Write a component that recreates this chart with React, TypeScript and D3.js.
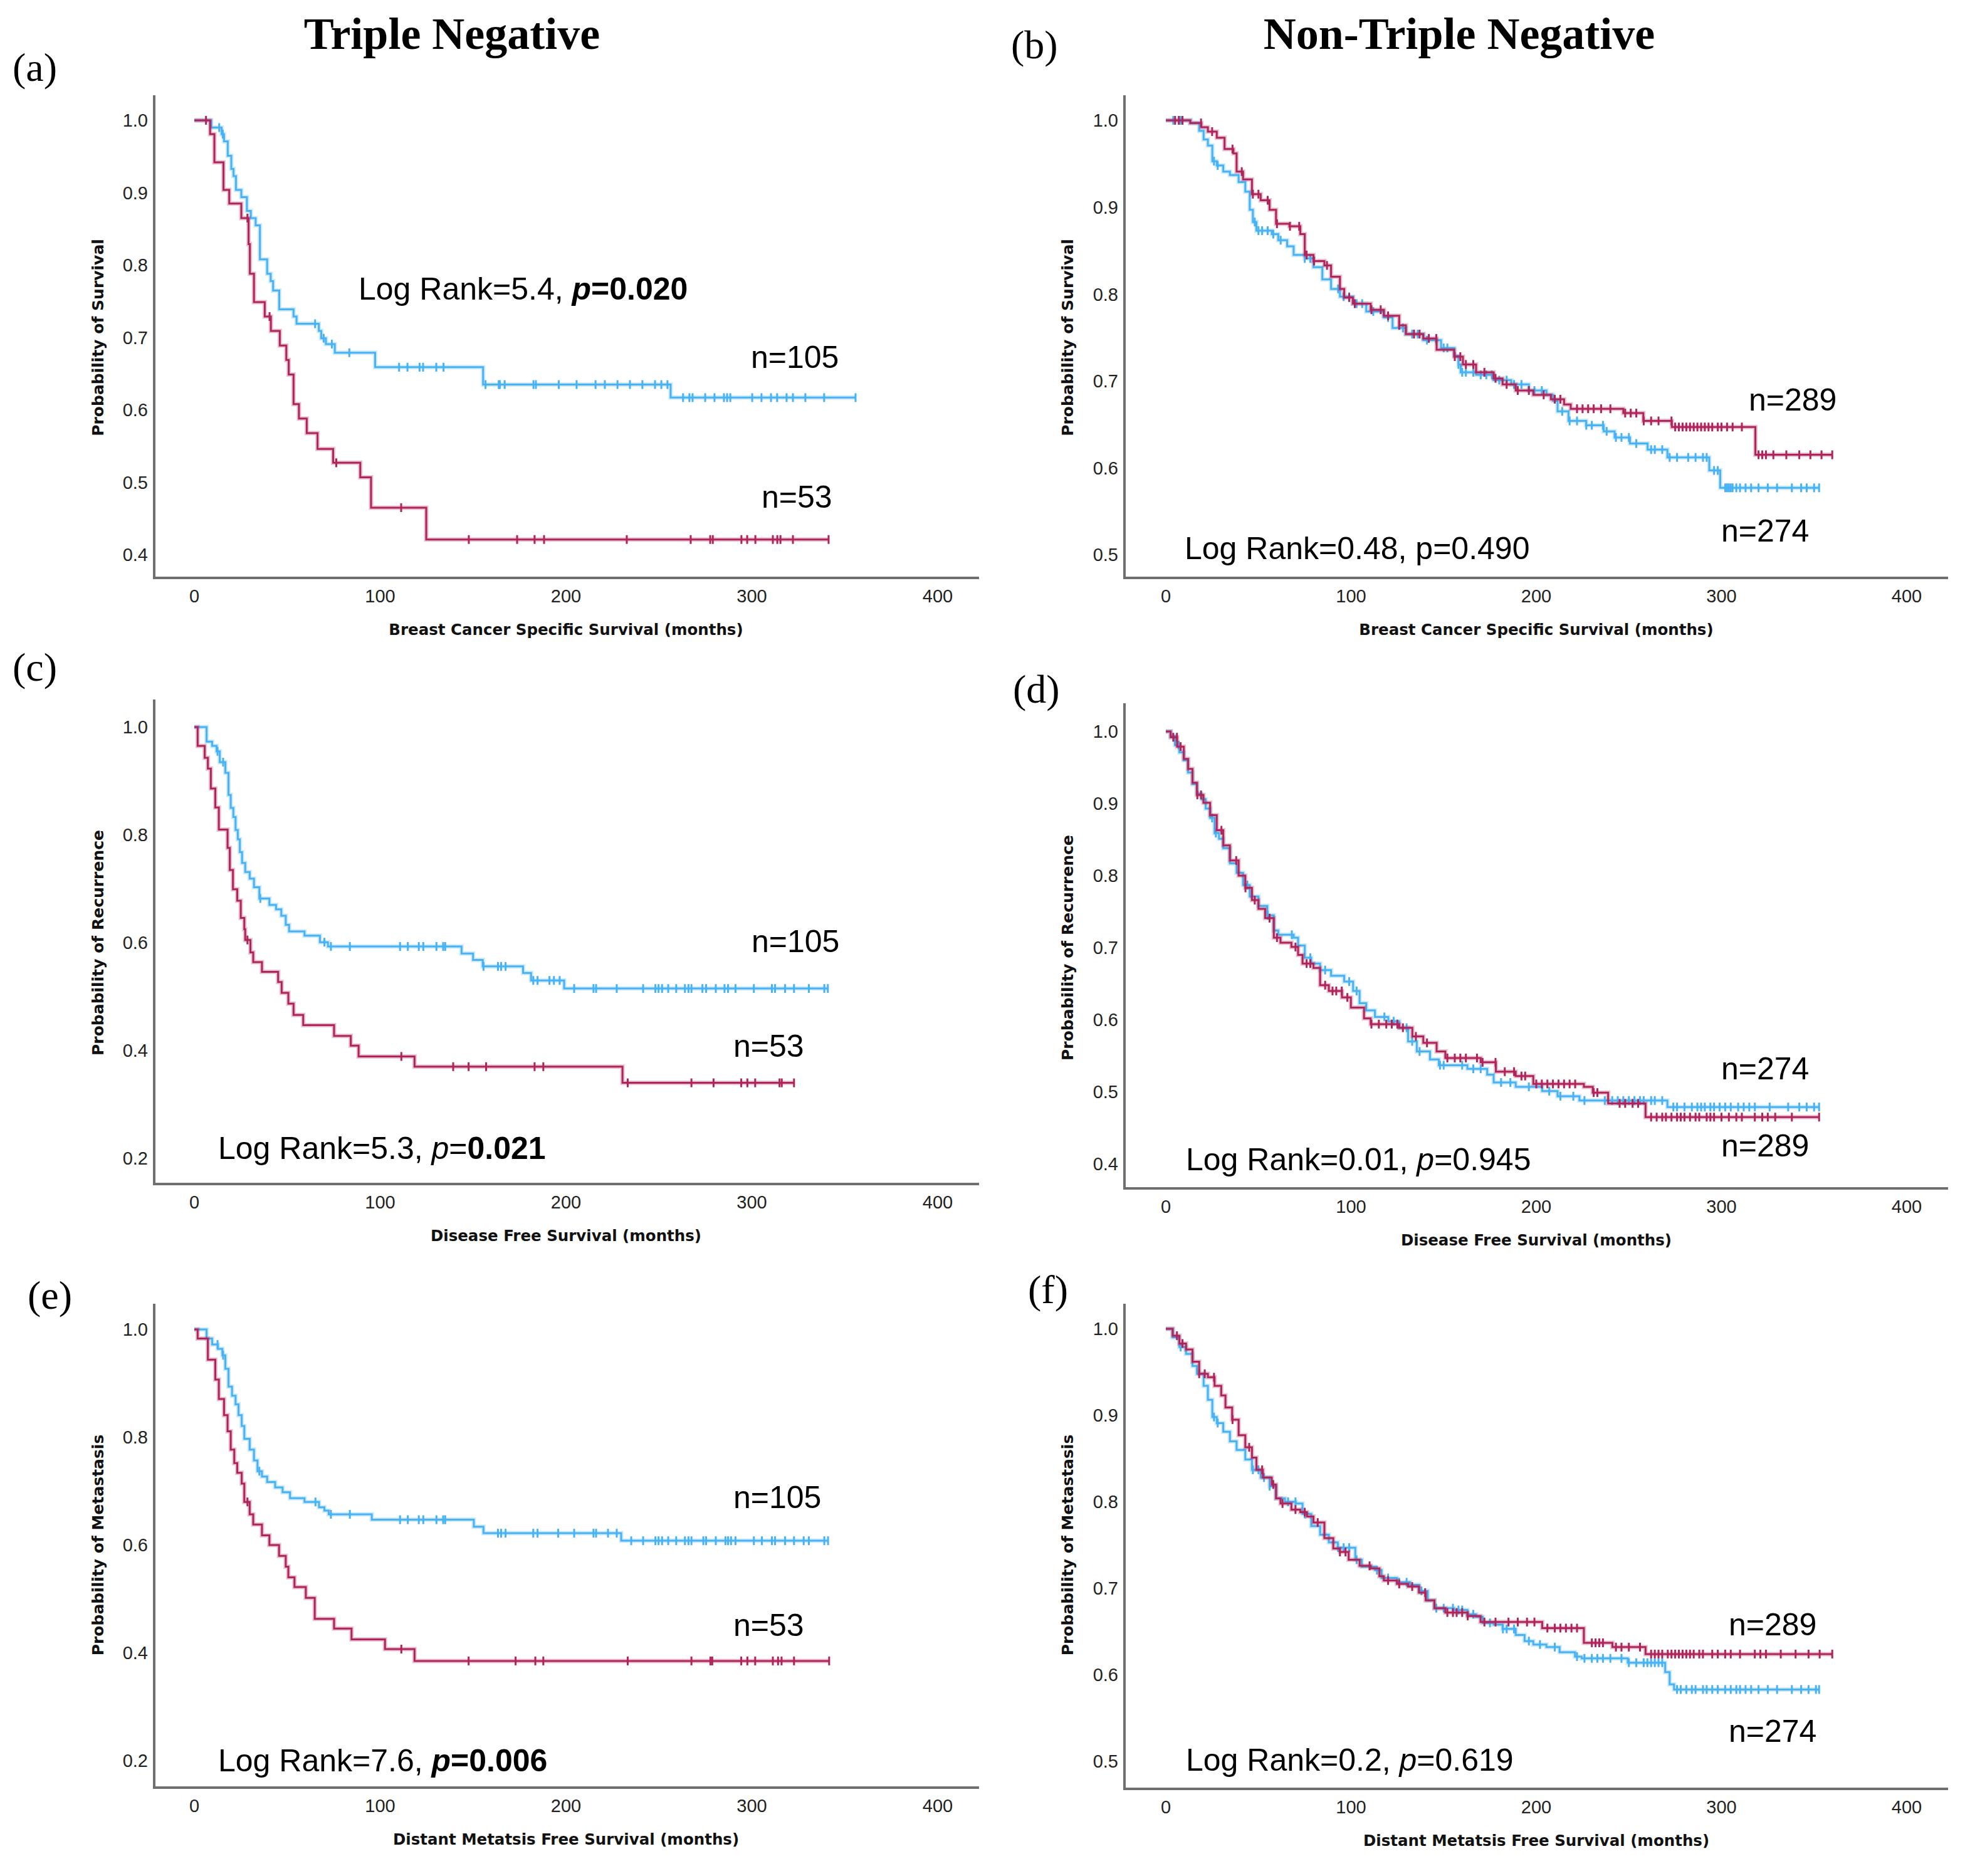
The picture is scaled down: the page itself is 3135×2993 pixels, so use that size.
import { curveStepAfter, format, line, scaleLinear } from 'd3';

const width = 3135;
const height = 2993;

const blueColor = '#48b2f4';
const redColor = '#ad255b';
const axisColor = '#6f6f6f';

// Kaplan-Meier steps: [months, probability after the drop]
const aBlue = [[0, 1], [9.1, 0.99], [14.7, 0.981], [16, 0.971], [18, 0.951], [19.9, 0.933], [21.1, 0.923], [22.4, 0.904], [25.3, 0.894], [28.3, 0.875], [30.4, 0.865], [33, 0.855], [35.3, 0.808], [39.2, 0.788], [41.1, 0.778], [42.4, 0.765], [45.7, 0.739], [53.4, 0.729], [55, 0.719], [67, 0.709], [68.3, 0.699], [70.8, 0.691], [75.6, 0.679], [97.3, 0.659], [155.4, 0.635], [256.3, 0.617]];
const aBlueEnd = 355.8;
const aBlueCensor = [13.4, 15.3, 65, 69.6, 74, 83.4, 110.2, 114.7, 121.2, 123.1, 130.2, 134.1, 156.7, 163.8, 164.4, 167, 182.5, 183.8, 196.1, 205.7, 215.9, 220.9, 227.7, 234.4, 241.1, 247.9, 251.3, 254.6, 263, 266.4, 268.1, 274.9, 279.9, 285, 286.7, 288.4, 300.2, 305.2, 310.3, 313.6, 318.7, 322.1, 328.8, 338.9, 355.8];
const aRed = [[0, 1], [8.5, 0.981], [10.8, 0.942], [15.7, 0.904], [18.8, 0.885], [25.3, 0.865], [29.2, 0.829], [29.9, 0.788], [32.1, 0.749], [37.9, 0.729], [41.2, 0.709], [46, 0.689], [49.5, 0.669], [50.8, 0.649], [53.4, 0.608], [56.3, 0.588], [60.5, 0.568], [66.3, 0.546], [74.7, 0.527], [89.3, 0.507], [95.1, 0.465], [124.8, 0.421]];
const aRedEnd = 341.3;
const aRedCensor = [6.3, 28.6, 40.5, 76.4, 111.3, 147.7, 173.7, 183.1, 188.2, 232.7, 267.1, 277.6, 279, 294.4, 297.5, 301.9, 311.3, 313.7, 315.4, 322.1, 341.3];

const bBlue = [[0, 1], [13.2, 0.997], [18, 0.988], [20.4, 0.978], [22.7, 0.971], [25.1, 0.953], [27.5, 0.948], [31, 0.941], [34.6, 0.937], [39.3, 0.929], [42.9, 0.918], [45.3, 0.897], [47, 0.883], [48.9, 0.873], [57.2, 0.869], [60.7, 0.862], [65.5, 0.855], [69, 0.845], [75, 0.841], [79.7, 0.831], [84.5, 0.817], [89.2, 0.806], [94, 0.797], [101, 0.789], [108.2, 0.78], [117.7, 0.773], [122.4, 0.761], [129.6, 0.754], [139, 0.747], [148.6, 0.738], [155.7, 0.729], [158, 0.719], [159.2, 0.71], [167.5, 0.707], [177, 0.701], [186.5, 0.696], [196, 0.689], [205.5, 0.684], [209.1, 0.677], [211.5, 0.665], [217.4, 0.654], [226.9, 0.649], [236.4, 0.642], [242.3, 0.635], [250.6, 0.628], [260.1, 0.621], [270.8, 0.612], [293.4, 0.597], [299.3, 0.577]];
const bBlueEnd = 352.7;
const bBlueCensor = [4, 8, 26, 28, 48, 50, 52, 55, 58, 62, 75, 78, 93, 96, 99, 103, 106, 112, 120, 128, 133, 136, 141, 146, 150, 152, 158, 160, 162, 166, 170, 173, 176, 180, 184, 188, 192, 199, 203, 214, 218, 222, 227, 230, 236, 238, 243, 246, 250, 254, 262, 264, 268, 272, 276, 282, 286, 290, 292, 296, 298, 302, 303, 304, 305, 306, 308, 310, 313, 316, 320, 325, 330, 338, 343, 346, 350, 352.7];
const bRed = [[0, 1], [13.2, 0.997], [19.2, 0.992], [22.7, 0.987], [27.5, 0.98], [31.7, 0.967], [36.5, 0.962], [38.2, 0.941], [41.7, 0.932], [46.5, 0.915], [51.2, 0.908], [56, 0.897], [59.5, 0.881], [66.7, 0.878], [72.6, 0.869], [75, 0.845], [79.7, 0.838], [85.6, 0.833], [89.2, 0.82], [94, 0.806], [96.3, 0.796], [101, 0.789], [110.6, 0.782], [117.7, 0.775], [126, 0.764], [129.6, 0.754], [139, 0.749], [146.2, 0.736], [155.7, 0.728], [160.4, 0.719], [167.5, 0.71], [177, 0.703], [181.8, 0.696], [188.9, 0.689], [198.4, 0.684], [207.9, 0.679], [215, 0.673], [218.6, 0.668], [247, 0.663], [257.8, 0.654], [273.2, 0.647], [318.3, 0.615]];
const bRedEnd = 359.8;
const bRedCensor = [5, 7, 9, 19, 25, 36, 41, 47, 50, 55, 60, 67, 72, 76, 80, 87, 99, 102, 111, 116, 120, 126, 134, 137, 142, 146, 156, 159, 162, 166, 172, 178, 184, 190, 196, 204, 210, 213, 222, 225, 228, 231, 235, 240, 248, 251, 254, 258, 262, 266, 273, 275, 277, 279, 281, 283, 285, 287, 289, 291, 293, 295, 298, 300, 303, 306, 311, 320, 322, 324, 328, 335, 342, 348, 354, 359.8];

const cBlue = [[0, 1], [6.6, 0.973], [9.6, 0.965], [12, 0.955], [13.7, 0.935], [16.7, 0.915], [18.4, 0.874], [19.6, 0.85], [21, 0.833], [22.2, 0.809], [23.4, 0.792], [24.5, 0.768], [25.7, 0.748], [27.4, 0.731], [29.8, 0.719], [32.1, 0.703], [35, 0.682], [40.4, 0.67], [44, 0.662], [46.8, 0.65], [49.2, 0.633], [51, 0.621], [59.3, 0.613], [67.6, 0.601], [71.9, 0.593], [143.8, 0.58], [150, 0.568], [155.2, 0.556], [176.9, 0.544], [181.2, 0.53], [199, 0.515]];
const cBlueEnd = 340.9;
const cBlueCensor = [12.5, 15.5, 35.5, 70, 73.5, 83.7, 110.7, 114.9, 120.8, 123.2, 130.3, 133.9, 135, 155.6, 163.4, 165.1, 167.5, 182.4, 184.7, 191.1, 193.5, 196.6, 204.4, 214.8, 216.2, 227.3, 241.5, 248.1, 249.8, 251.7, 255, 259.3, 264, 265.9, 267.5, 273.4, 275.4, 280.6, 285.3, 287.2, 291.2, 301.1, 310.8, 312.5, 317.9, 322.7, 330.7, 339, 340.9];
const cRed = [[0, 1], [1.8, 0.965], [5.6, 0.943], [7.3, 0.923], [8.9, 0.886], [11.3, 0.851], [13.2, 0.81], [17.9, 0.776], [19.1, 0.735], [20.8, 0.699], [23.1, 0.678], [25, 0.646], [26.9, 0.625], [27.4, 0.605], [30.2, 0.582], [31.7, 0.564], [36.4, 0.546], [45.1, 0.527], [47, 0.507], [50.6, 0.487], [53.4, 0.466], [58.6, 0.447], [75.2, 0.427], [84.2, 0.409], [88.4, 0.389], [118.5, 0.37], [230.4, 0.34]];
const cRedEnd = 323;
const cRedCensor = [28.6, 111.4, 139.3, 147.6, 157, 183.1, 187.8, 233.2, 267.5, 279.4, 294.3, 297.6, 301.8, 314.9, 316.1, 322.7];

const dBlue = [[0, 1], [2.6, 0.994], [4.9, 0.981], [7.3, 0.971], [9.7, 0.96], [12, 0.943], [14.4, 0.927], [16.8, 0.914], [19.2, 0.906], [21.5, 0.893], [23.9, 0.88], [26.3, 0.859], [28.7, 0.851], [31, 0.838], [34.6, 0.817], [38.2, 0.804], [41.7, 0.787], [45.3, 0.771], [50, 0.758], [54.8, 0.745], [58.3, 0.724], [60.7, 0.718], [69, 0.714], [71.4, 0.703], [75, 0.686], [78.5, 0.678], [83.3, 0.669], [89.2, 0.661], [96.3, 0.653], [101.1, 0.64], [104.6, 0.623], [108.2, 0.613], [112.9, 0.604], [120.1, 0.598], [126, 0.589], [130.8, 0.57], [135.5, 0.556], [142.6, 0.545], [147.4, 0.537], [162.8, 0.532], [173.5, 0.524], [177, 0.513], [188.9, 0.507], [203.2, 0.501], [211.5, 0.494], [223.3, 0.488], [270.8, 0.479]];
const dBlueEnd = 352.7;
const dBlueCensor = [7, 25, 27, 44, 55, 68, 78, 86, 99, 103, 118, 123, 130, 133, 137, 148, 150, 160, 166, 170, 181, 186, 196, 207, 213, 220, 226, 237, 241, 244, 247, 250, 253, 256, 258, 262, 264, 268, 274, 276, 280, 284, 287, 289, 291, 294, 296, 299, 302, 305, 309, 312, 315, 318, 326, 336, 342, 346, 350, 352.7];
const dRed = [[0, 1], [2.6, 0.992], [6.1, 0.979], [9.7, 0.962], [12, 0.948], [14.4, 0.929], [16.8, 0.912], [20.3, 0.901], [23.9, 0.884], [27.5, 0.863], [31, 0.842], [34.6, 0.821], [39.3, 0.8], [42.9, 0.783], [46.5, 0.766], [50, 0.754], [53.6, 0.741], [58.3, 0.714], [61.9, 0.707], [67.8, 0.701], [71.4, 0.69], [73.8, 0.678], [79.7, 0.672], [83.3, 0.648], [88, 0.64], [95.1, 0.631], [99.9, 0.617], [107, 0.602], [110.6, 0.594], [126, 0.589], [133.1, 0.577], [139, 0.568], [146.2, 0.556], [150.9, 0.547], [170, 0.541], [178.2, 0.528], [188.9, 0.522], [198.4, 0.511], [225.7, 0.507], [230.5, 0.499], [238.8, 0.484], [259, 0.465]];
const dRedEnd = 352.7;
const dRedCensor = [4, 6, 8, 17, 19, 30, 38, 43, 48, 56, 60, 70, 76, 78, 86, 90, 92, 95, 98, 111, 115, 119, 122, 125, 128, 135, 141, 152, 156, 159, 162, 168, 171, 178, 183, 188, 192, 194, 200, 203, 206, 209, 212, 215, 218, 221, 231, 233, 245, 248, 252, 255, 262, 265, 268, 270, 273, 276, 278, 280, 283, 286, 288, 292, 294, 296, 300, 304, 308, 311, 318, 322, 325, 329, 338, 352.7];

const eBlue = [[0, 1], [6.6, 0.983], [9.6, 0.972], [12.7, 0.964], [15.1, 0.952], [16.7, 0.927], [18.4, 0.894], [20.3, 0.877], [22.2, 0.861], [23.8, 0.841], [25.5, 0.821], [26.9, 0.797], [29.8, 0.777], [32.1, 0.757], [34, 0.737], [36.4, 0.727], [39.2, 0.717], [43.5, 0.707], [47.5, 0.698], [51.5, 0.687], [59.3, 0.68], [67.1, 0.67], [70, 0.664], [72.3, 0.657], [95.5, 0.647], [150.4, 0.634], [155.6, 0.622], [229.7, 0.608]];
const eBlueEnd = 341;
const eBlueCensor = [12.5, 15.5, 35, 65.2, 73.5, 83.7, 110.7, 114.9, 120.8, 123.2, 130.3, 133.9, 135, 163.4, 165.1, 167.5, 182.4, 184.7, 195.8, 204.4, 214.8, 216.2, 222.6, 227.3, 235.1, 241.5, 248.1, 249.8, 251.7, 255, 259.3, 264, 265.9, 267.5, 273.9, 275.4, 280.6, 285.8, 287.2, 288.8, 291.2, 301.1, 305.4, 310.8, 312.5, 317.9, 322.7, 327.9, 330.7, 339, 341];
const eRed = [[0, 1], [1.8, 0.983], [7.3, 0.944], [11.3, 0.907], [13.2, 0.871], [16, 0.841], [17.9, 0.811], [19.6, 0.777], [21.5, 0.752], [23.1, 0.734], [25.5, 0.714], [26.9, 0.68], [29.8, 0.657], [31.7, 0.638], [36.4, 0.618], [40.4, 0.6], [45.6, 0.58], [49.2, 0.56], [50.6, 0.54], [53.9, 0.522], [60, 0.502], [64.8, 0.463], [75.2, 0.445], [84.6, 0.425], [102.6, 0.407], [118.5, 0.385]];
const eRedEnd = 341.6;
const eRedCensor = [28.6, 111.4, 147.6, 172.9, 183.5, 187.8, 233.2, 267.5, 277.7, 278.7, 294.3, 297.6, 301.8, 311.3, 314.1, 316, 322.7, 341.6];

const fBlue = [[0, 1], [3.7, 0.99], [7.3, 0.979], [10.9, 0.971], [14.4, 0.957], [16.8, 0.948], [20.4, 0.934], [22.7, 0.918], [25.1, 0.898], [27.5, 0.891], [31, 0.881], [34.6, 0.87], [38.2, 0.86], [42.9, 0.849], [46.5, 0.837], [51.2, 0.828], [56, 0.818], [59.5, 0.804], [64.3, 0.8], [70.2, 0.798], [73.8, 0.786], [78.5, 0.772], [83.3, 0.762], [88, 0.753], [92.8, 0.747], [102.3, 0.733], [105.8, 0.725], [113, 0.721], [116.5, 0.712], [124.8, 0.707], [131.9, 0.704], [136.7, 0.697], [141.4, 0.686], [145, 0.677], [155.7, 0.675], [162.8, 0.67], [167.5, 0.667], [171.1, 0.66], [177, 0.658], [181.8, 0.653], [188.9, 0.646], [193.7, 0.639], [198.4, 0.635], [205.5, 0.632], [212.6, 0.626], [220.9, 0.621], [224.5, 0.619], [249.4, 0.614], [269.6, 0.603], [272, 0.589], [274.4, 0.583]];
const fBlueEnd = 352.7;
const fBlueCensor = [8, 26, 28, 47, 50, 53, 56, 66, 70, 75, 93, 96, 99, 103, 114, 120, 126, 130, 138, 146, 150, 155, 158, 160, 163, 166, 175, 182, 184, 188, 196, 202, 210, 222, 226, 230, 233, 236, 240, 246, 250, 254, 258, 260, 262, 264, 266, 268, 276, 278, 281, 284, 286, 290, 292, 295, 298, 302, 305, 308, 310, 313, 316, 320, 325, 330, 338, 343, 347, 351, 352.7];
const fRed = [[0, 1], [3.7, 0.992], [7.3, 0.983], [10.9, 0.976], [14.4, 0.962], [18, 0.948], [22.7, 0.944], [26.3, 0.934], [29.9, 0.923], [32.2, 0.909], [35.8, 0.895], [39.3, 0.877], [42.9, 0.863], [46.5, 0.851], [48.9, 0.837], [52.4, 0.828], [57.2, 0.82], [59.5, 0.804], [61.9, 0.798], [67.8, 0.791], [72.6, 0.788], [76.2, 0.783], [79.7, 0.776], [85.6, 0.758], [90.4, 0.746], [94, 0.742], [98.7, 0.733], [104.6, 0.726], [110.6, 0.723], [115.3, 0.714], [117.7, 0.709], [124.8, 0.705], [130.8, 0.702], [136.7, 0.695], [140.3, 0.686], [145, 0.677], [150.9, 0.672], [162.8, 0.668], [169.9, 0.661], [203.2, 0.654], [225.7, 0.637], [241.1, 0.632], [259, 0.624]];
const fRedEnd = 359.8;
const fRedCensor = [6, 9, 18, 21, 26, 36, 45, 52, 58, 63, 70, 75, 82, 94, 97, 110, 120, 126, 133, 140, 152, 155, 157, 160, 163, 172, 178, 185, 190, 195, 199, 206, 210, 213, 216, 219, 222, 230, 232, 234, 236, 243, 246, 250, 256, 262, 264, 266, 268, 271, 273, 275, 277, 279, 281, 283, 285, 288, 290, 295, 298, 302, 305, 310, 318, 321, 324, 332, 340, 347, 353, 359.8];

interface Seg { t: string; b?: boolean; i?: boolean }
interface Label { text: string; x: number; y: number }
interface PanelCfg {
	left: number;
	right: number;
	top: number;
	bottom: number;
	xRange: [number, number];
	yDomain: [number, number];
	yRange: [number, number];
	yTickCount: number;
	yTitle: string;
	yTitleX: number;
	xTitle: string;
	blue: number[][];
	blueEnd: number;
	blueCensor: number[];
	red: number[][];
	redEnd: number;
	redCensor: number[];
	logRank: Seg[];
	lrX: number;
	lrY: number;
	nLabels: Label[];
}

const leftX: [number, number] = [310, 1496];
const rightX: [number, number] = [1860, 3042];

const panels: PanelCfg[] = [
	{
		left: 246, right: 1562, top: 152, bottom: 922, xRange: leftX,
		yDomain: [0.4, 1.0], yRange: [885, 192], yTickCount: 6,
		yTitle: 'Probability of Survival', yTitleX: 156,
		xTitle: 'Breast Cancer Specific Survival (months)',
		blue: aBlue, blueEnd: aBlueEnd, blueCensor: aBlueCensor,
		red: aRed, redEnd: aRedEnd, redCensor: aRedCensor,
		logRank: [{ t: 'Log Rank=5.4, ' }, { t: 'p', b: true, i: true }, { t: '=0.020', b: true }],
		lrX: 572, lrY: 478,
		nLabels: [{ text: 'n=105', x: 1198, y: 587 }, { text: 'n=53', x: 1215, y: 810 }],
	},
	{
		left: 1794, right: 3108, top: 152, bottom: 922, xRange: rightX,
		yDomain: [0.5, 1.0], yRange: [885, 192], yTickCount: 5,
		yTitle: 'Probability of Survival', yTitleX: 1703,
		xTitle: 'Breast Cancer Specific Survival (months)',
		blue: bBlue, blueEnd: bBlueEnd, blueCensor: bBlueCensor,
		red: bRed, redEnd: bRedEnd, redCensor: bRedCensor,
		logRank: [{ t: 'Log Rank=0.48, p=0.490' }],
		lrX: 1890, lrY: 892,
		nLabels: [{ text: 'n=289', x: 2790, y: 655 }, { text: 'n=274', x: 2746, y: 864 }],
	},
	{
		left: 246, right: 1562, top: 1116, bottom: 1889, xRange: leftX,
		yDomain: [0.2, 1.0], yRange: [1848, 1160], yTickCount: 4,
		yTitle: 'Probability of Recurrence', yTitleX: 156,
		xTitle: 'Disease Free Survival (months)',
		blue: cBlue, blueEnd: cBlueEnd, blueCensor: cBlueCensor,
		red: cRed, redEnd: cRedEnd, redCensor: cRedCensor,
		logRank: [{ t: 'Log Rank=5.3, ' }, { t: 'p', i: true }, { t: '=' }, { t: '0.021', b: true }],
		lrX: 348, lrY: 1849,
		nLabels: [{ text: 'n=105', x: 1199, y: 1519 }, { text: 'n=53', x: 1170, y: 1686 }],
	},
	{
		left: 1794, right: 3108, top: 1122, bottom: 1896, xRange: rightX,
		yDomain: [0.4, 1.0], yRange: [1857, 1167], yTickCount: 6,
		yTitle: 'Probability of Recurrence', yTitleX: 1703,
		xTitle: 'Disease Free Survival (months)',
		blue: dBlue, blueEnd: dBlueEnd, blueCensor: dBlueCensor,
		red: dRed, redEnd: dRedEnd, redCensor: dRedCensor,
		logRank: [{ t: 'Log Rank=0.01, ' }, { t: 'p', i: true }, { t: '=0.945' }],
		lrX: 1892, lrY: 1867,
		nLabels: [{ text: 'n=274', x: 2746, y: 1722 }, { text: 'n=289', x: 2746, y: 1845 }],
	},
	{
		left: 246, right: 1562, top: 2080, bottom: 2852, xRange: leftX,
		yDomain: [0.2, 1.0], yRange: [2809, 2121], yTickCount: 4,
		yTitle: 'Probability of Metastasis', yTitleX: 156,
		xTitle: 'Distant Metatsis Free Survival (months)',
		blue: eBlue, blueEnd: eBlueEnd, blueCensor: eBlueCensor,
		red: eRed, redEnd: eRedEnd, redCensor: eRedCensor,
		logRank: [{ t: 'Log Rank=7.6, ' }, { t: 'p', b: true, i: true }, { t: '=0.006', b: true }],
		lrX: 348, lrY: 2826,
		nLabels: [{ text: 'n=105', x: 1170, y: 2406 }, { text: 'n=53', x: 1170, y: 2610 }],
	},
	{
		left: 1794, right: 3108, top: 2080, bottom: 2854, xRange: rightX,
		yDomain: [0.5, 1.0], yRange: [2810, 2120], yTickCount: 5,
		yTitle: 'Probability of Metastasis', yTitleX: 1703,
		xTitle: 'Distant Metatsis Free Survival (months)',
		blue: fBlue, blueEnd: fBlueEnd, blueCensor: fBlueCensor,
		red: fRed, redEnd: fRedEnd, redCensor: fRedCensor,
		logRank: [{ t: 'Log Rank=0.2, ' }, { t: 'p', i: true }, { t: '=0.619' }],
		lrX: 1892, lrY: 2825,
		nLabels: [{ text: 'n=289', x: 2758, y: 2609 }, { text: 'n=274', x: 2758, y: 2779 }],
	},
];

const letters = [
	{ text: '(a)', x: 20, y: 129 },
	{ text: '(b)', x: 1613, y: 93 },
	{ text: '(c)', x: 20, y: 1086 },
	{ text: '(d)', x: 1616, y: 1121 },
	{ text: '(e)', x: 44, y: 2088 },
	{ text: '(f)', x: 1640, y: 2079 },
];

const sans = '"Liberation Sans", Arial, sans-serif';
const serif = '"Liberation Serif", "Times New Roman", serif';
const titleFont = '"DejaVu Sans", Verdana, sans-serif';
const tickFormat = format('.1f');

// value of the step curve at time t
const valueAt = (steps: number[][], t: number) => {
	let v = steps[0][1];
	for (const s of steps) {
		if (s[0] <= t) v = s[1];
	}
	return v;
};

const Curve = ({ steps, end, censor, color, xScale, yScale }: any) => {
	const pts = [...steps, [end, steps[steps.length - 1][1]]];
	const d =
		line<number[]>()
			.curve(curveStepAfter)
			.x(p => xScale(p[0]))
			.y(p => yScale(p[1]))(pts) || '';
	return (
		<g>
			<path d={d} fill="none" stroke={color} strokeOpacity={0.28} strokeWidth={7} />
			<path d={d} fill="none" stroke={color} strokeWidth={3} />
			{censor.map((t: number, i: number) => {
				const cx = xScale(t);
				const cy = yScale(valueAt(steps, t));
				return (
					<line
						key={i}
						x1={cx}
						x2={cx}
						y1={cy - 7}
						y2={cy + 7}
						stroke={color}
						strokeWidth={3}
					/>
				);
			})}
		</g>
	);
};

const Panel = ({ cfg }: { cfg: PanelCfg }) => {
	const xScale = scaleLinear().domain([0, 400]).range(cfg.xRange);
	const yScale = scaleLinear().domain(cfg.yDomain).range(cfg.yRange);
	const yMid = (cfg.yRange[0] + cfg.yRange[1]) / 2;
	return (
		<g>
			{yScale.ticks(cfg.yTickCount).map(v => (
				<text
					key={v}
					x={cfg.left - 10}
					y={yScale(v)}
					dy="0.36em"
					textAnchor="end"
					fontFamily={sans}
					fontSize={29}
					fill="#222"
				>
					{tickFormat(v)}
				</text>
			))}
			{xScale.ticks(4).map(v => (
				<text
					key={v}
					x={xScale(v)}
					y={cfg.bottom + 39}
					textAnchor="middle"
					fontFamily={sans}
					fontSize={29}
					fill="#222"
				>
					{v}
				</text>
			))}
			<text
				transform={`translate(${cfg.yTitleX},${yMid}) rotate(-90)`}
				textAnchor="middle"
				dy="0.36em"
				fontFamily={titleFont}
				fontWeight="bold"
				fontSize={25}
				fill="#111"
			>
				{cfg.yTitle}
			</text>
			<text
				x={xScale(200)}
				y={cfg.bottom + 91}
				textAnchor="middle"
				fontFamily={titleFont}
				fontWeight="bold"
				fontSize={24.5}
				fill="#111"
			>
				{cfg.xTitle}
			</text>
			<Curve steps={cfg.blue} end={cfg.blueEnd} censor={cfg.blueCensor} color={blueColor} xScale={xScale} yScale={yScale} />
			<Curve steps={cfg.red} end={cfg.redEnd} censor={cfg.redCensor} color={redColor} xScale={xScale} yScale={yScale} />
			<path
				d={`M${cfg.left},${cfg.top}V${cfg.bottom}H${cfg.right}`}
				fill="none"
				stroke={axisColor}
				strokeWidth={4}
			/>
			<text x={cfg.lrX} y={cfg.lrY} fontFamily={sans} fontSize={50} fill="#000">
				{cfg.logRank.map((s, i) => (
					<tspan key={i} fontWeight={s.b ? 'bold' : 'normal'} fontStyle={s.i ? 'italic' : 'normal'}>
						{s.t}
					</tspan>
				))}
			</text>
			{cfg.nLabels.map(l => (
				<text key={l.text} x={l.x} y={l.y} fontFamily={sans} fontSize={50} fill="#000">
					{l.text}
				</text>
			))}
		</g>
	);
};

const App = () => (
	<div style={{ position: 'absolute', left: 0, top: 0, background: '#fff' }}>
		<svg width={width} height={height} style={{ display: 'block' }}>
			<rect width={width} height={height} fill="#fff" />
			<text x={721} y={78} textAnchor="middle" fontFamily={serif} fontWeight="bold" fontSize={72}>
				Triple Negative
			</text>
			<text x={2328} y={78} textAnchor="middle" fontFamily={serif} fontWeight="bold" fontSize={72}>
				Non-Triple Negative
			</text>
			{letters.map(l => (
				<text key={l.text} x={l.x} y={l.y} fontFamily={serif} fontSize={64}>
					{l.text}
				</text>
			))}
			{panels.map((p, i) => (
				<Panel key={i} cfg={p} />
			))}
		</svg>
	</div>
);

export default App;
